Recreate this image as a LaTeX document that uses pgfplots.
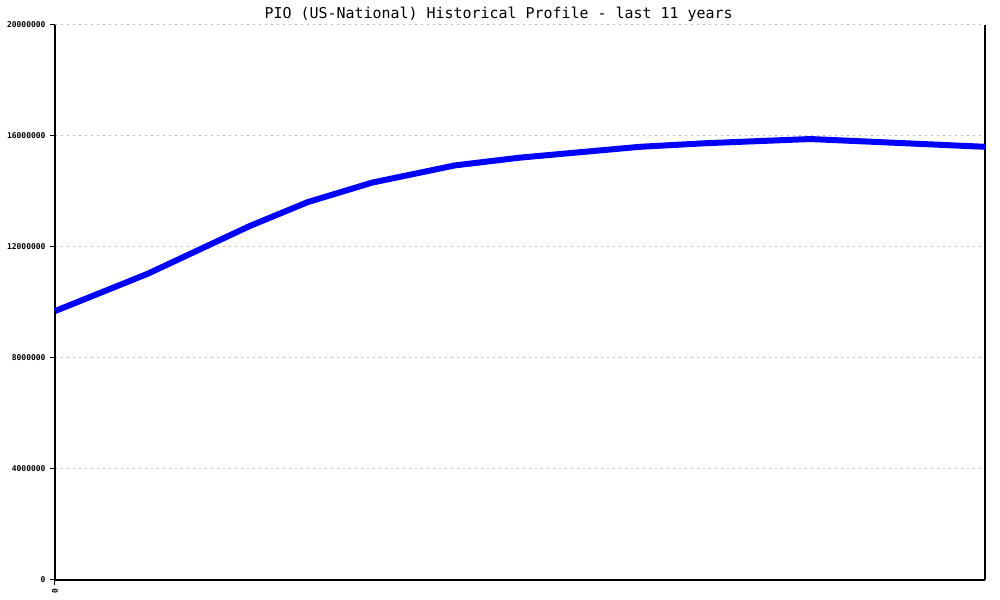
\documentclass[border=0pt]{standalone}
\usepackage{fontspec}
\setmonofont{DejaVu Sans Mono}
\usepackage{pgfplots}
\pgfplotsset{compat=1.18}

\begin{document}
\begin{tikzpicture}[x=1bp,y=1bp]
\begin{axis}[
  at={(0,0)}, anchor=south west,
  scale only axis,
  width=930bp, height=555bp,
  xmin=0, xmax=10,
  ymin=0, ymax=20000000,
  axis x line=bottom,
  axis y line=box,
  axis line style={black, line width=1.2bp, -},
  ytick={0,4000000,8000000,12000000,16000000,20000000},
  yticklabels={0,4000000,8000000,12000000,16000000,20000000},
  scaled y ticks=false,
  xtick={0},
  xticklabels={0},
  ytick pos=left,
  xtick pos=bottom,
  tick align=outside,
  major tick length=5bp,
  tick style={black, line width=1bp},
  ymajorgrids,
  grid style={color=black!25, line width=1bp, dash pattern=on 2bp off 4bp},
  yticklabel style={font=\ttfamily\bfseries\fontsize{8}{9}\selectfont, xshift=-1bp},
  xticklabel style={font=\ttfamily\bfseries\fontsize{8}{9}\selectfont, rotate=90, anchor=east},
  title={PIO (US-National) Historical Profile - last 11 years},
  title style={font=\ttfamily\fontsize{15}{16}\selectfont, at={(0.477,1)}, anchor=base, yshift=1bp},
  clip=false,
]
\addplot[color={rgb,255:red,0;green,0;blue,255}, line width=6bp, line join=round] coordinates {
  (0,9690000) (1,11040000) (2.097,12760000) (2.72,13620000) (3.41,14320000)
  (4.30,14940000) (5,15220000) (6.29,15610000) (7,15740000) (8.12,15890000)
  (9,15760000) (10,15610000)
};
\end{axis}
\pgfresetboundingbox
\path[use as bounding box] (-55,-20) rectangle (945,580);
\end{tikzpicture}
\end{document}
